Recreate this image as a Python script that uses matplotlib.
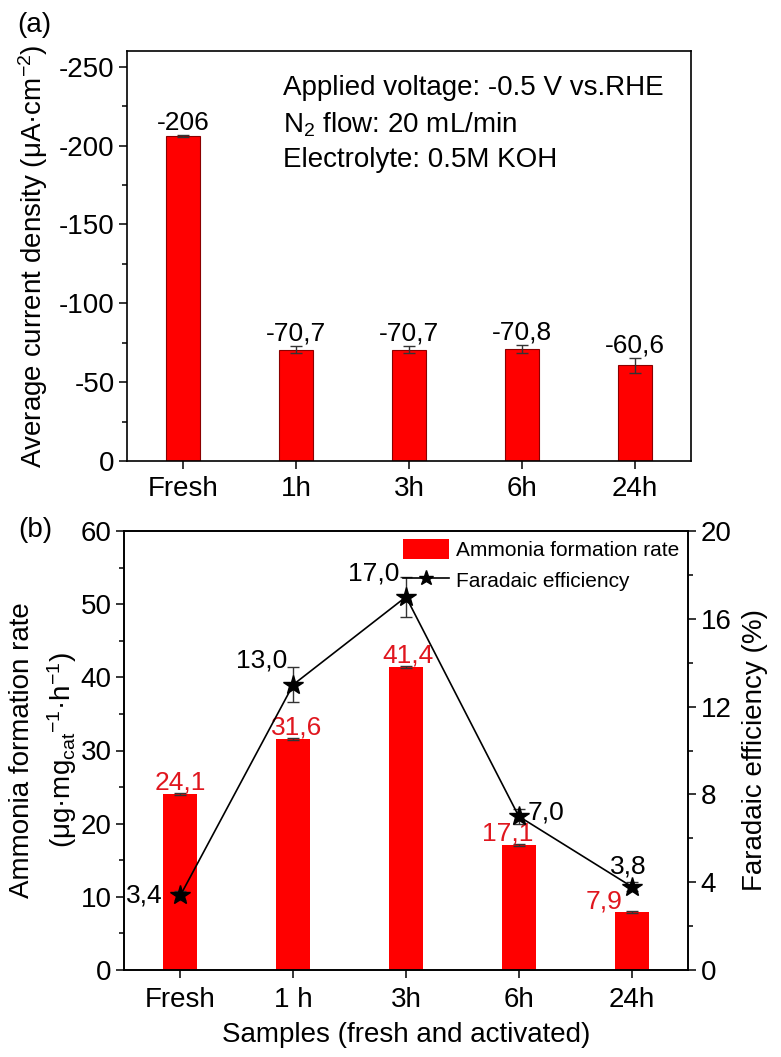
import numpy as np
import matplotlib
matplotlib.use("Agg")
import matplotlib.pyplot as plt
from matplotlib.ticker import MultipleLocator

plt.rcParams["font.family"] = ["Liberation Sans", "DejaVu Sans"]
plt.rcParams["mathtext.fontset"] = "custom"
plt.rcParams["mathtext.rm"] = "Liberation Sans"
plt.rcParams["mathtext.it"] = "Liberation Sans:italic"
plt.rcParams["mathtext.default"] = "regular"
plt.rcParams["axes.unicode_minus"] = False

# (a) average current density
samples_a = ["Fresh", "1h", "3h", "6h", "24h"]
current = [-206, -70.7, -70.7, -70.8, -60.6]
current_err = [0.6, 2.5, 2.5, 2.5, 4.5]

# (b) ammonia formation rate + faradaic efficiency
samples_b = ["Fresh", "1 h", "3h", "6h", "24h"]
nh3_rate = [24.1, 31.6, 41.4, 17.1, 7.9]
nh3_err = [0.15, 0.15, 0.15, 0.15, 0.1]
fe = [3.4, 13.0, 17.0, 7.0, 3.8]
fe_err = [0.2, 0.8, 0.9, 0.35, 0.2]

W, H = 781, 1057
red = "#ff0000"
red_txt = "#e0161e"
err_kw = dict(ecolor="#333333", elinewidth=1, capsize=4, capthick=1)


def style_ticks(ax, side="left"):
    ax.tick_params(which="both", direction="out", top=False, bottom=True,
                   left=(side == "left"), right=(side == "right"),
                   labelleft=(side == "left"), labelright=(side == "right"),
                   labelsize=20, width=1.1, pad=3)
    ax.tick_params(which="major", length=6)
    ax.tick_params(which="minor", length=3.5)
    ax.tick_params(axis="x", which="minor", bottom=False)
    for s in ax.spines.values():
        s.set_linewidth(1.2)


fig = plt.figure(figsize=(W / 100, H / 100), dpi=100)

# ---------- (a) ----------
ax1 = fig.add_axes([127 / W, 1 - 461 / H, (691 - 127) / W, (461 - 51) / H])
x = np.arange(len(samples_a))
ax1.bar(x, current, width=0.3, color=red, edgecolor="#8a0000", linewidth=0.8,
        yerr=current_err, error_kw=err_kw)
ax1.set_xlim(-0.5, 4.5)
ax1.set_ylim(0, -260)
ax1.yaxis.set_major_locator(MultipleLocator(50))
ax1.yaxis.set_minor_locator(MultipleLocator(25))
ax1.set_xticks(x)
ax1.set_xticklabels(samples_a)
style_ticks(ax1)
ax1.tick_params(axis="x", pad=5)

for xi, v, e in zip(x, current, current_err):
    ax1.annotate(f"{v:g}".replace(".", ","), (xi, v - e), xytext=(0, 4),
                 textcoords="offset points", ha="center", va="baseline",
                 fontsize=19)

ax1.text(0.277, 0.893, "Applied voltage: -0.5 V vs.RHE", transform=ax1.transAxes,
         fontsize=20, va="baseline")
ax1.text(0.277, 0.802, "N$_2$ flow: 20 mL/min", transform=ax1.transAxes,
         fontsize=20, va="baseline")
ax1.text(0.277, 0.717, "Electrolyte: 0.5M KOH", transform=ax1.transAxes,
         fontsize=20, va="baseline")

fig.text(33 / W, 1 - 256 / H, "Average current density (μA·cm$^{-2}$)",
         rotation=90, ha="center", va="center", fontsize=20)
fig.text(34 / W, 1 - 25 / H, "(a)", ha="center", va="center", fontsize=20)

# ---------- (b) ----------
ax2 = fig.add_axes([124 / W, 1 - 970 / H, (688 - 124) / W, (970 - 531) / H])
bars = ax2.bar(x, nh3_rate, width=0.3, color=red, yerr=nh3_err, error_kw=err_kw,
               label="Ammonia formation rate")
ax2.set_xlim(-0.5, 4.5)
ax2.set_ylim(0, 60)
ax2.yaxis.set_major_locator(MultipleLocator(10))
ax2.yaxis.set_minor_locator(MultipleLocator(5))
ax2.set_xticks(x)
ax2.set_xticklabels(samples_b)
style_ticks(ax2)
ax2.tick_params(axis="x", pad=6)

# red labels: (dx px, ha)
rate_pos = [(0, "center"), (3, "center"), (2, "center"), (-11, "center"), (-9, "right")]
for xi, v, (dx, ha) in zip(x, nh3_rate, rate_pos):
    ax2.annotate(f"{v:.1f}".replace(".", ","), (xi, v), xytext=(dx * 0.72, 3),
                 textcoords="offset points", ha=ha, va="baseline",
                 fontsize=19, color=red_txt)

ax3 = ax2.twinx()
ax3.set_ylim(0, 20)
ax3.yaxis.set_major_locator(MultipleLocator(4))
ax3.yaxis.set_minor_locator(MultipleLocator(2))
style_ticks(ax3, side="right")
ax3.tick_params(axis="x", bottom=False, labelbottom=False)
ax3.errorbar(x, fe, yerr=fe_err, fmt="none", **err_kw)
line, = ax3.plot(x, fe, "-*", color="black", markersize=15, linewidth=1.2,
                 label="Faradaic efficiency")

# black labels: (dx px, dy px, ha, va)
fe_pos = [(-18, 0, "right", "center"), (-6, 17, "right", "baseline"),
          (-7, 16, "right", "baseline"), (9, 4, "left", "center"),
          (-3, 13, "center", "baseline")]
for xi, v, (dx, dy, ha, va) in zip(x, fe, fe_pos):
    ax3.annotate(f"{v:.1f}".replace(".", ","), (xi, v), xytext=(dx * 0.72, dy * 0.72),
                 textcoords="offset points", ha=ha, va=va, fontsize=19)

ax3.legend(handles=[bars, line], loc="upper right", bbox_to_anchor=(1.0, 1.0),
           frameon=False, fontsize=15, handlelength=2.2, handleheight=1.1,
           handletextpad=0.35, labelspacing=0.45, borderpad=0.2,
           borderaxespad=0.2, markerscale=0.75)

fig.text(22 / W, 1 - 750 / H, "Ammonia formation rate", rotation=90,
         ha="center", va="center", fontsize=20)
fig.text(62 / W, 1 - 750 / H, "(μg·mg$_{cat}$$^{-1}$·h$^{-1}$)", rotation=90,
         ha="center", va="center", fontsize=20)
fig.text(755 / W, 1 - 750 / H, "Faradaic efficiency (%)", rotation=90,
         ha="center", va="center", fontsize=20)
fig.text(406 / W, 1 - 1035 / H, "Samples (fresh and activated)",
         ha="center", va="center", fontsize=20)
fig.text(35 / W, 1 - 530 / H, "(b)", ha="center", va="center", fontsize=20)

fig.savefig("out.png", dpi=100)
